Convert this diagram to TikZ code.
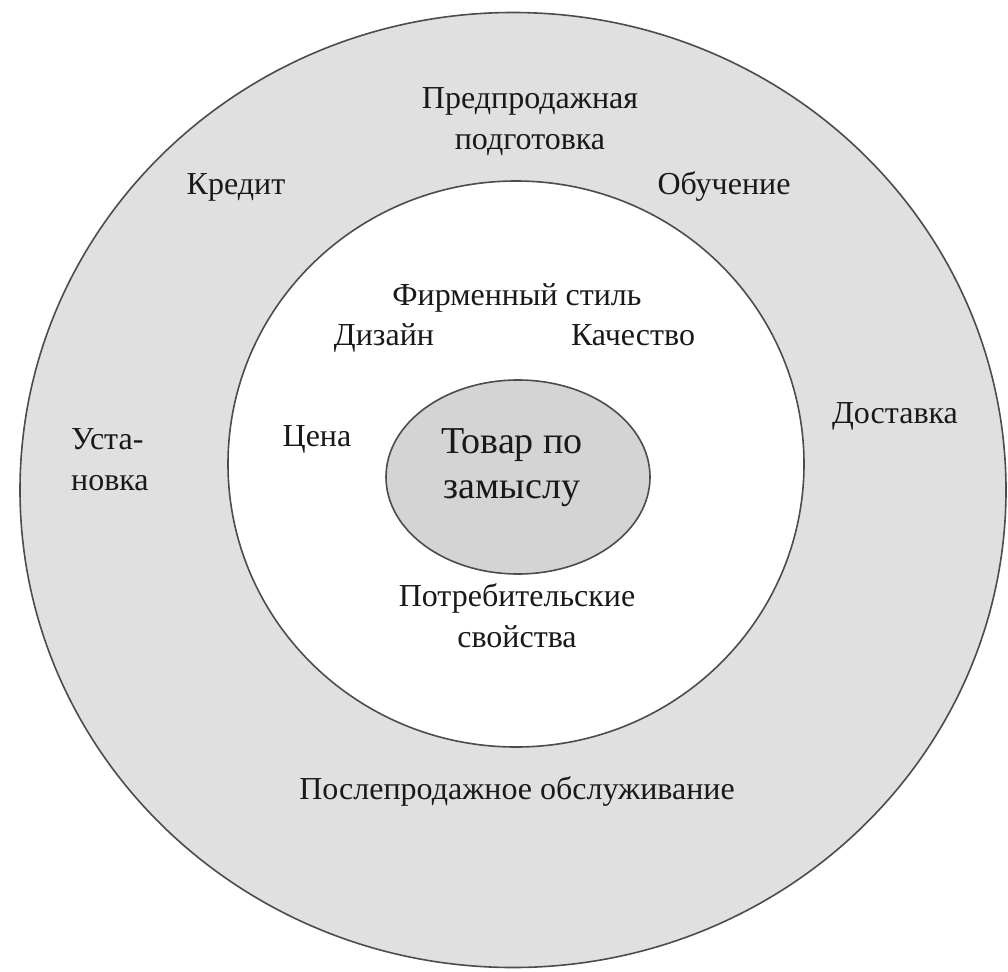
\documentclass[tikz,border=0pt]{standalone}
\usepackage{fontspec}
\setmainfont{Liberation Serif}
\usetikzlibrary{shapes.geometric}
\begin{document}
\begin{tikzpicture}[x=1pt,y=-1pt,
  ring/.style={ellipse, draw=black!70, line width=1.6pt, inner sep=0pt},
  lbl/.style={inner sep=0pt, align=center, text=black!90, font=\fontsize{32}{41}\selectfont},
  one/.style={lbl, text height=0.7em, text depth=0.22em},
  corelbl/.style={inner sep=0pt, align=center, text=black!90, font=\fontsize{38}{45}\selectfont}]
\useasboundingbox (0,0) rectangle (1008,971);
\node[ring, fill=black!12, minimum width=986pt, minimum height=955pt] (outer) at (513,490) {};
\node[ring, fill=white, minimum width=576pt, minimum height=566pt] (inner) at (516,464) {};
\node[ring, fill=black!17, minimum width=264pt, minimum height=194pt] (core) at (518,477) {};
\node[corelbl] (coretext) at (512,468) {Товар по\\замыслу};
\node[lbl] (pre) at (530,122) {Предпродажная\\подготовка};
\node[one] (credit) at (236,192) {Кредит};
\node[one] (train) at (724,192) {Обучение};
\node[one] (firm) at (517,303) {Фирменный стиль};
\node[one] (design) at (384,343) {Дизайн};
\node[one] (quality) at (633,343) {Качество};
\node[one] (delivery) at (895,421) {Доставка};
\node[lbl, align=left, anchor=west] (install) at (71,460) {Уста-\\новка};
\node[one] (price) at (317,444) {Цена};
\node[lbl] (props) at (517,616) {Потребительские\\свойства};
\node[one] (after) at (517,797) {Послепродажное обслуживание};
\end{tikzpicture}
\end{document}
